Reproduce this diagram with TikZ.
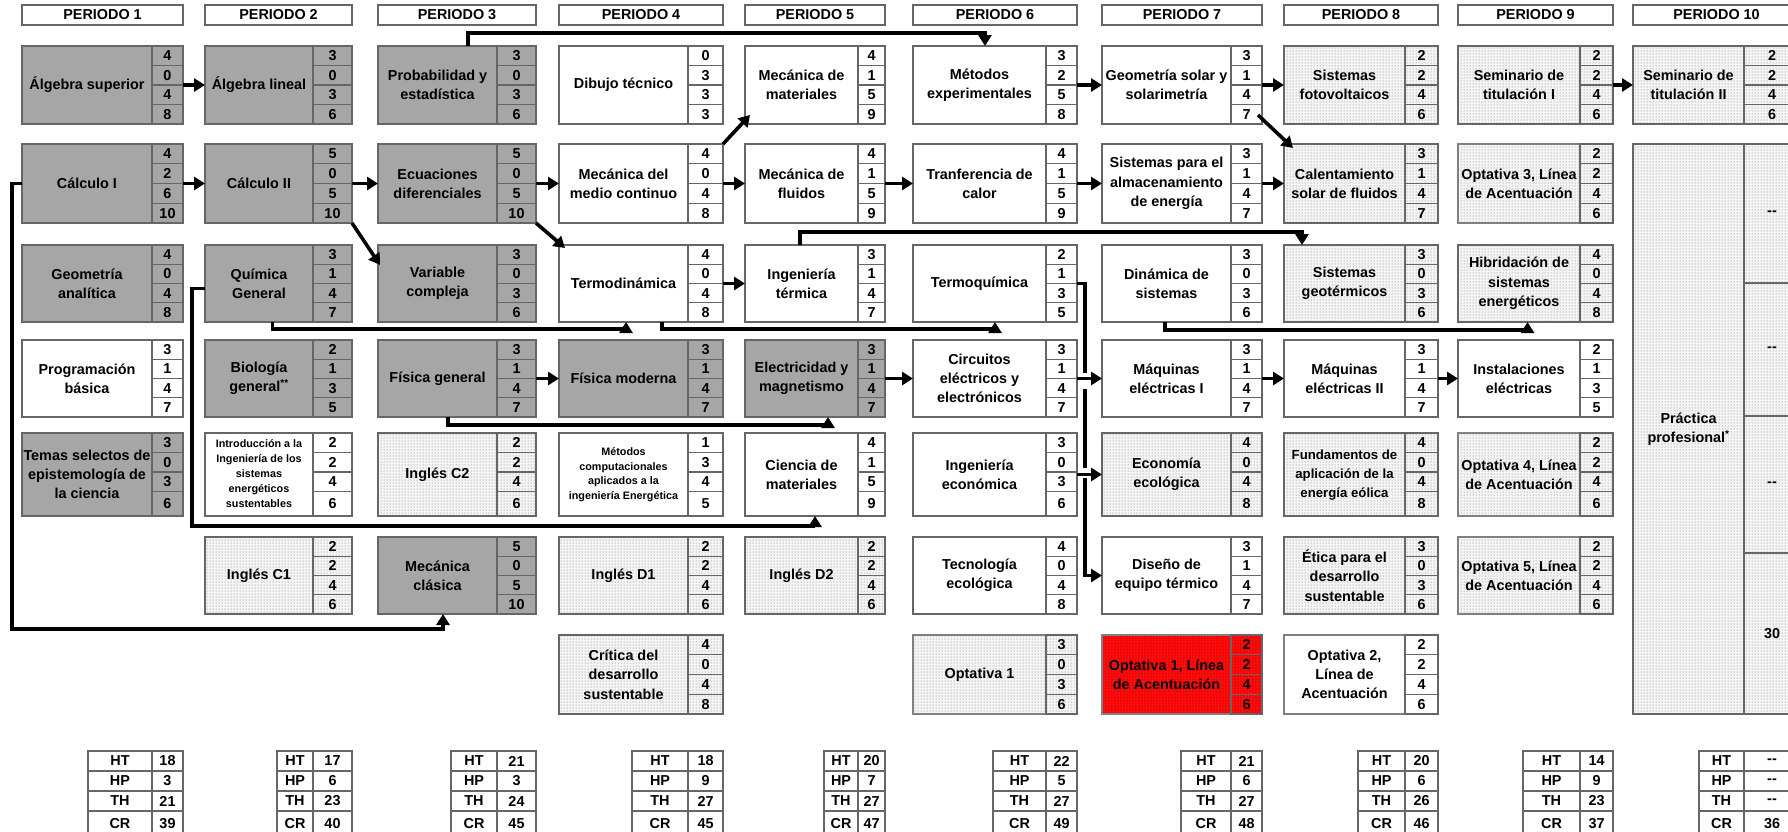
\documentclass[tikz,border=0pt]{standalone}
\usepackage{fontspec}
\setmainfont{Liberation Sans}
\usetikzlibrary{calc}
\usetikzlibrary{arrows.meta}
\usetikzlibrary{patterns}
\colorlet{frame colour}{black!60}
\colorlet{basic colour}{black!35}
\colorlet{dot colour}{black!55}
\definecolor{accent red}{RGB}{255,0,0}

% Column and row positions of the grid
\def\colleft{{0,22,205,378,559,745,913,1102,1284,1458,1633}}
\def\colnum{{0,152,313,497,688,858,1046,1231,1405,1580,1744}}
\def\colright{{0,183,352,536,723,885,1077,1262,1438,1613,1800}}
\def\rowtop{{0,46,144,245,340,433,537,635}}
\def\rowbot{{0,124,223,322,417,516,614,714}}
\def\rowextra{{0,0,0,0,0,5,0,0}}

\newcommand{\normalcourse}{\bfseries\fontsize{14.4}{19.3}\selectfont}
\newcommand{\smallcourse}{\fontsize{10.8}{14.8}\selectfont}
\newcommand{\midcourse}{\fontsize{13.2}{19}\selectfont}
\newcommand{\nodata}{-{}-}
% A block of lines set in a font of its own
\newcommand{\textblock}[2]{#1\begin{tabular}{@{}c@{}}#2\end{tabular}}

\tikzset{
    % Text is always centred and bold
    every node/.style={align=center, font=\normalcourse},
%
    % Fills of the course boxes
    basic/.style={fill=basic colour},
    plain/.style={fill=white},
    elective/.style={preaction={fill=black!4}, pattern=dots, pattern color=dot colour},
    red elective/.style={preaction={fill=accent red}, pattern=dots, pattern color=black!45},
    optional/.style={draw=black!50, line width=2.6pt},
%
    course/.style={
        draw=frame colour, line width=1.3pt, rectangle,
        inner sep=0pt, outer sep=0pt, anchor=north west},
    cell/.style={
        draw=frame colour, line width=1.3pt, rectangle,
        inner sep=0pt, outer sep=0pt, anchor=north west},
    header/.style={
        cell, fill=white, minimum height=20pt},
%
    % Connectors
    link/.style={line width=3.6pt, -{Triangle[length=11pt, width=13pt]}},
    link line/.style={line width=3.6pt},
}

% name, style, column, row, text, four numbers
\newcommand{\asignatura}[9]{%
    \pgfmathsetmacro{\xl}{\colleft[#3]}%
    \pgfmathsetmacro{\xn}{\colnum[#3]}%
    \pgfmathsetmacro{\xr}{\colright[#3]}%
    \pgfmathsetmacro{\yt}{\rowtop[#4]}%
    \pgfmathsetmacro{\yb}{\rowbot[#4]}%
    \pgfmathsetmacro{\ye}{\rowextra[#4]}%
    \pgfmathsetmacro{\bw}{\xr-\xl}%
    \pgfmathsetmacro{\bh}{\yb-\yt}%
    \pgfmathsetmacro{\cw}{\xr-\xn}%
    \pgfmathsetmacro{\hc}{(\bh-\ye)/4}%
    \node [course, #2, minimum width=\bw pt, minimum height=\bh pt] (#1) at (\xl,\yt) {};
    \node (#1-text) at ({(\xl+\xn)/2},{(\yt+\yb)/2}) {#5};
    \foreach \cellval [count=\ci] in {#6,#7,#8,#9} {
        \pgfmathsetmacro{\ct}{\yt+(\ci-1)*\hc}
        \pgfmathsetmacro{\ch}{\hc+(\ci==4)*\ye}
        \node [cell, minimum width=\cw pt, minimum height=\ch pt] (#1-\ci) at (\xn,\ct) {\cellval};
    }%
}

\begin{document}
\begin{tikzpicture}[
    x=1pt, y=-1pt]

\useasboundingbox (0,0) rectangle (1788,831);
\clip (0,0) rectangle (1788,831);

% Period headers
\foreach \p in {1,...,10} {
    \pgfmathsetmacro{\xl}{\colleft[\p]}
    \pgfmathsetmacro{\bw}{\colright[\p]-\colleft[\p]}
    \node [header, minimum width=\bw pt] (periodo\p) at (\xl,5) {PERIODO \p};
}

% Row 1
\asignatura{algsup}{basic}{1}{1}{Álgebra superior}{4}{0}{4}{8}
\asignatura{alglin}{basic}{2}{1}{Álgebra lineal}{3}{0}{3}{6}
\asignatura{probest}{basic}{3}{1}{Probabilidad y\\estadística}{3}{0}{3}{6}
\asignatura{dibujo}{plain}{4}{1}{Dibujo técnico}{0}{3}{3}{3}
\asignatura{mecmat}{plain}{5}{1}{Mecánica de\\materiales}{4}{1}{5}{9}
\asignatura{metexp}{plain}{6}{1}{Métodos\\experimentales}{3}{2}{5}{8}
\asignatura{geosol}{plain}{7}{1}{Geometría solar y\\solarimetría}{3}{1}{4}{7}
\asignatura{fotovol}{elective}{8}{1}{Sistemas\\fotovoltaicos}{2}{2}{4}{6}
\asignatura{semtit1}{elective}{9}{1}{Seminario de\\titulación I}{2}{2}{4}{6}
\asignatura{semtit2}{elective}{10}{1}{Seminario de\\titulación II}{2}{2}{4}{6}

% Row 2
\asignatura{calc1}{basic}{1}{2}{Cálculo I}{4}{2}{6}{10}
\asignatura{calc2}{basic}{2}{2}{Cálculo II}{5}{0}{5}{10}
\asignatura{ecudif}{basic}{3}{2}{Ecuaciones\\diferenciales}{5}{0}{5}{10}
\asignatura{mecmed}{plain}{4}{2}{Mecánica del\\medio continuo}{4}{0}{4}{8}
\asignatura{mecflu}{plain}{5}{2}{Mecánica de\\fluidos}{4}{1}{5}{9}
\asignatura{trancal}{plain}{6}{2}{Tranferencia de\\calor}{4}{1}{5}{9}
\asignatura{almac}{plain}{7}{2}{Sistemas para el\\almacenamiento\\de energía}{3}{1}{4}{7}
\asignatura{calsol}{elective}{8}{2}{Calentamiento\\solar de fluidos}{3}{1}{4}{7}
\asignatura{opt3}{elective, optional}{9}{2}{Optativa 3, Línea\\de Acentuación}{2}{2}{4}{6}

% Row 3
\asignatura{geoana}{basic}{1}{3}{Geometría\\analítica}{4}{0}{4}{8}
\asignatura{quimica}{basic}{2}{3}{Química\\General}{3}{1}{4}{7}
\asignatura{varcomp}{basic}{3}{3}{Variable\\compleja}{3}{0}{3}{6}
\asignatura{termo}{plain}{4}{3}{Termodinámica}{4}{0}{4}{8}
\asignatura{ingterm}{plain}{5}{3}{Ingeniería\\térmica}{3}{1}{4}{7}
\asignatura{termoq}{plain}{6}{3}{Termoquímica}{2}{1}{3}{5}
\asignatura{dinsis}{plain}{7}{3}{Dinámica de\\sistemas}{3}{0}{3}{6}
\asignatura{geoterm}{elective}{8}{3}{Sistemas\\geotérmicos}{3}{0}{3}{6}
\asignatura{hibrid}{elective}{9}{3}{Hibridación de\\sistemas\\energéticos}{4}{0}{4}{8}

% Row 4
\asignatura{progbas}{plain}{1}{4}{Programación\\básica}{3}{1}{4}{7}
\asignatura{biologia}{basic}{2}{4}{Biología\\general\textsuperscript{**}}{2}{1}{3}{5}
\asignatura{fisgen}{basic}{3}{4}{Física general}{3}{1}{4}{7}
\asignatura{fismod}{basic}{4}{4}{Física moderna}{3}{1}{4}{7}
\asignatura{elecmag}{basic}{5}{4}{Electricidad y\\magnetismo}{3}{1}{4}{7}
\asignatura{circuitos}{plain}{6}{4}{Circuitos\\eléctricos y\\electrónicos}{3}{1}{4}{7}
\asignatura{maq1}{plain}{7}{4}{Máquinas\\eléctricas I}{3}{1}{4}{7}
\asignatura{maq2}{plain}{8}{4}{Máquinas\\eléctricas II}{3}{1}{4}{7}
\asignatura{instal}{plain}{9}{4}{Instalaciones\\eléctricas}{2}{1}{3}{5}

% Row 5
\asignatura{temas}{basic}{1}{5}{Temas selectos de\\epistemología de\\la ciencia}{3}{0}{3}{6}
\asignatura{intro}{plain}{2}{5}{\textblock{\smallcourse}{Introducción a la\\Ingeniería de los\\sistemas\\energéticos\\sustentables}}{2}{2}{4}{6}
\asignatura{inglesc2}{elective}{3}{5}{Inglés C2}{2}{2}{4}{6}
\asignatura{metcomp}{plain}{4}{5}{\textblock{\smallcourse}{Métodos\\computacionales\\aplicados a la\\ingeniería Energética}}{1}{3}{4}{5}
\asignatura{cienmat}{plain}{5}{5}{Ciencia de\\materiales}{4}{1}{5}{9}
\asignatura{ingecon}{plain}{6}{5}{Ingeniería\\económica}{3}{0}{3}{6}
\asignatura{ecoeco}{elective}{7}{5}{Economía\\ecológica}{4}{0}{4}{8}
\asignatura{eolica}{elective}{8}{5}{\textblock{\midcourse}{Fundamentos de\\aplicación de la\\energía eólica}}{4}{0}{4}{8}
\asignatura{opt4}{elective, optional}{9}{5}{Optativa 4, Línea\\de Acentuación}{2}{2}{4}{6}

% Row 6
\asignatura{inglesc1}{elective}{2}{6}{Inglés C1}{2}{2}{4}{6}
\asignatura{mecclas}{basic}{3}{6}{Mecánica\\clásica}{5}{0}{5}{10}
\asignatura{inglesd1}{elective}{4}{6}{Inglés D1}{2}{2}{4}{6}
\asignatura{inglesd2}{elective}{5}{6}{Inglés D2}{2}{2}{4}{6}
\asignatura{tecnol}{plain}{6}{6}{Tecnología\\ecológica}{4}{0}{4}{8}
\asignatura{disterm}{plain}{7}{6}{Diseño de\\equipo térmico}{3}{1}{4}{7}
\asignatura{etica}{elective}{8}{6}{Ética para el\\desarrollo\\sustentable}{3}{0}{3}{6}
\asignatura{opt5}{elective, optional}{9}{6}{Optativa 5, Línea\\de Acentuación}{2}{2}{4}{6}

% Row 7
\asignatura{critica}{elective}{4}{7}{Crítica del\\desarrollo\\sustentable}{4}{0}{4}{8}
\asignatura{opt1}{elective, optional}{6}{7}{Optativa 1}{3}{0}{3}{6}
\asignatura{optlin1}{red elective, optional}{7}{7}{Optativa 1, Línea\\de Acentuación}{2}{2}{4}{6}
\asignatura{opt2}{plain, optional}{8}{7}{Optativa 2,\\Línea de\\Acentuación}{2}{2}{4}{6}

% Practica profesional spans rows 2 to 7
\node [course, elective, minimum width=167pt, minimum height=570pt] (practica) at (1633,144) {};
\node (practica-text) at (1688.5,429) {Práctica\\profesional\textsuperscript{*}};
\foreach \cellval/\ct/\ch [count=\ci] in {\nodata/144/139, \nodata/283/133, \nodata/416/137, 30/553/161}
    \node [cell, minimum width=56pt, minimum height=\ch pt] (practica-\ci) at (1744,\ct) {\cellval};

% Totals per period
\foreach \p/\lx/\vht/\vhp/\vth/\vcr in {
    1/88/18/3/21/39, 2/277/17/6/23/40, 3/451/21/3/24/45,
    4/632/18/9/27/45, 5/824/20/7/27/47, 6/993/22/5/27/49,
    7/1181/21/6/27/48, 8/1358/20/6/26/46, 9/1523/14/9/23/37,
    10/1699/\nodata/\nodata/\nodata/36} {
    \pgfmathsetmacro{\xn}{\colnum[\p]}
    \pgfmathsetmacro{\lw}{\xn-\lx}
    \pgfmathsetmacro{\cw}{\colright[\p]-\xn}
    \foreach \lab/\cellval [count=\ri] in {HT/\vht, HP/\vhp, TH/\vth, CR/\vcr} {
        \pgfmathsetmacro{\ct}{751+(\ri-1)*20}
        \pgfmathsetmacro{\ch}{20+(\ri==4)*6}
        \node [cell, fill=white, minimum width=\lw pt, minimum height=\ch pt] (total\p-\lab) at (\lx,\ct) {\lab};
        \node [cell, fill=white, minimum width=\cw pt, minimum height=\ch pt] (total\p-\lab-val) at (\xn,\ct) {\cellval};
    }
}

% Straight links
\draw [link] (algsup) -- (alglin);
\draw [link] (calc1) -- (calc2);
\draw [link] (calc2) -- (ecudif);
\draw [link] (ecudif) -- (mecmed);
\draw [link] (mecmed) -- (mecflu);
\draw [link] (mecflu) -- (trancal);
\draw [link] (trancal) -- (almac);
\draw [link] (almac) -- (calsol);
\draw [link] (metexp) -- (geosol);
\draw [link] (geosol) -- (fotovol);
\draw [link] (semtit1) -- (semtit2);
\draw [link] (termo) -- (ingterm);
\draw [link] (fisgen) -- (fismod);
\draw [link] (elecmag) -- (circuitos);
\draw [link] (circuitos) -- (maq1);
\draw [link] (maq1) -- (maq2);
\draw [link] (maq2) -- (instal);
\draw [link] (ingecon) -- (ecoeco);

% Diagonal links
\draw [link] (calc2.south east) -- ([xshift=2pt, yshift=-20pt]varcomp.north west);
\draw [link] (ecudif.south east) -- ([xshift=6pt, yshift=-3pt]termo.north west);
\draw [link] (mecmed.north east) -- ([xshift=5pt, yshift=9pt]mecmat.south west);
\draw [link] ([xshift=-4pt, yshift=9pt]geosol.south east) -- ([xshift=9pt, yshift=-4pt]calsol.north west);

% Elbow links
\draw [link] ([xshift=11pt]probest.north) -- ++(0,-13) -| ([xshift=-10pt]metexp.north);
\draw [link] ([xshift=-15pt]ingterm.north) -- ++(0,-13) -| ([xshift=-59pt]geoterm.north);
\draw [link] ([xshift=-6pt]quimica.south) -- ++(0,7) -| ([xshift=-15pt]termo.south);
\draw [link] ([xshift=21pt]termo.south) -- ++(0,7) -| (termoq.south);
\draw [link] ([xshift=-17pt]dinsis.south) -- ++(0,8) -| ([xshift=-8pt]hibrid.south);
\draw [link] ([xshift=-9pt]fisgen.south) -- ++(0,8) -| ([xshift=13pt]elecmag.south);
\draw [link] ([yshift=-5pt]quimica.west) -- ++(-13,0) |- ([yshift=-10pt]cienmat.south) -- (cienmat.south);
\draw [link] (calc1.west) -- ++(-10,0) |- ([xshift=-14pt, yshift=-15pt]mecclas.south) -- ([xshift=-14pt]mecclas.south);

% Termoquimica feeds three courses of period 7
\draw [link line] (termoq.east) -- ++(8,0) coordinate (bus) -- ($(bus |- maq1.west)+(0,-6)$);
\draw [link line] ($(bus |- maq1.west)+(0,10)$) -- ($(bus |- ecoeco.west)+(0,-7)$);
\draw [link] ($(bus |- ecoeco.west)+(0,3)$) |- (disterm.west);

\end{tikzpicture}
\end{document}
